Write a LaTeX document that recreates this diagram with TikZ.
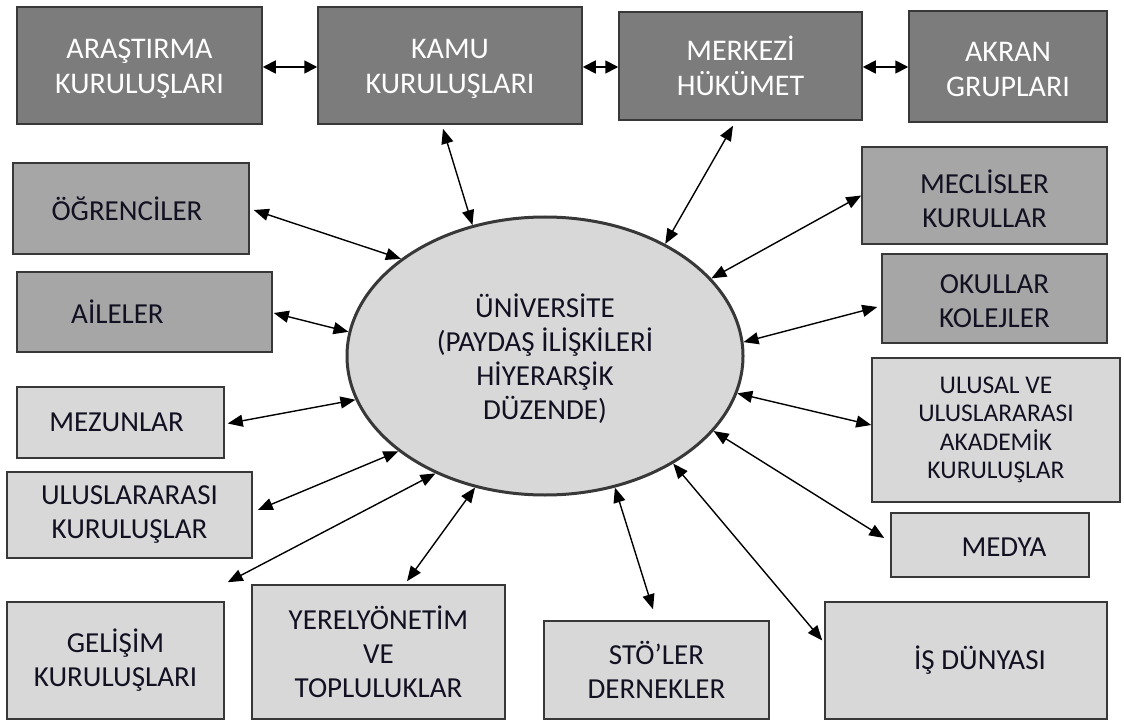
\documentclass[tikz,border=0pt]{standalone}
\usepackage{fontspec}
\setmainfont{Carlito}
\usetikzlibrary{arrows.meta,calc,fit,shapes.geometric}
\definecolor{dk}{HTML}{7C7C7C}
\definecolor{md}{HTML}{A6A6A6}
\definecolor{lt}{HTML}{D8D8D8}
\definecolor{bord}{HTML}{383838}
\definecolor{ink}{HTML}{111122}
\begin{document}
\begin{tikzpicture}[x=1pt,y=-1pt,
  bx/.style={draw=bord,line width=1.5pt,inner sep=0pt},
  dark/.style={bx,fill=dk},
  mid/.style={bx,fill=md},
  lite/.style={bx,fill=lt},
  tw/.style={text=white,font=\fontsize{30}{35}\selectfont,align=center,inner sep=0pt},
  tb/.style={text=ink,font=\fontsize{29}{34}\selectfont,align=center,inner sep=0pt},
  ts/.style={text=ink,font=\fontsize{25.5}{28.5}\selectfont,align=center,inner sep=0pt},
  arr/.style={line width=1.4pt,{Triangle[length=15pt,width=12pt]}-{Triangle[length=15pt,width=12pt]}},
  arrt/.style={line width=1.8pt,{Triangle[length=13pt,width=13pt]}-{Triangle[length=13pt,width=13pt]}}]
\useasboundingbox (0,0) rectangle (1124,722);
\fill[white] (0,0) rectangle (1124,722);
% top row
\node[dark,fit={(17,7) (262,124)}] (ara) {};
\node[tw] (araT) at ($(ara)+(0,3)$) {ARAŞTIRMA\\KURULUŞLARI};
\node[dark,fit={(318,7) (582,124)}] (kamu) {};
\node[tw] (kamuT) at ($(kamu)+(0,3)$) {KAMU\\KURULUŞLARI};
\node[dark,fit={(619,12) (862,120)}] (mer) {};
\node[tw] (merT) at (mer) {MERKEZİ\\HÜKÜMET};
\node[dark,fit={(909,11) (1107,122)}] (akr) {};
\node[tw] (akrT) at ($(akr)+(0,3)$) {AKRAN\\GRUPLARI};
% left column
\node[mid,fit={(13,163) (249,254)}] (ogr) {};
\node[tb] (ogrT) at ($(ogr)+(-4,0)$) {ÖĞRENCİLER};
\node[mid,fit={(17,272) (272,352)}] (aile) {};
\node[tb] (aileT) at ($(aile)+(-27,0)$) {AİLELER};
\node[lite,fit={(17,387) (224,458)}] (mez) {};
\node[tb] (mezT) at ($(mez)+(-4,0)$) {MEZUNLAR};
\node[lite,fit={(7,472) (252,558)}] (ulu) {};
\node[tb] (uluT) at (ulu) {ULUSLARARASI\\KURULUŞLAR};
\node[lite,fit={(7,602) (224,719)}] (gel) {};
\node[tb] (gelT) at (gel) {GELİŞİM\\KURULUŞLARI};
% bottom row
\node[lite,fit={(252,585) (505,719)}] (yer) {};
\node[tb] (yerT) at (yer) {YERELYÖNETİM\\VE\\TOPLULUKLAR};
\node[lite,fit={(544,621) (769,719)}] (sto) {};
\node[tb] (stoT) at (sto) {STÖ’LER\\DERNEKLER};
\node[lite,fit={(825,602) (1107,719)}] (is) {};
\node[tb] (isT) at ($(is)+(14,0)$) {İŞ DÜNYASI};
% right column
\node[mid,fit={(862,147) (1107,244)}] (mec) {};
\node[tb] (mecT) at ($(mec)+(0,3)$) {MECLİSLER\\KURULLAR};
\node[mid,fit={(882,254) (1107,343)}] (oku) {};
\node[tb] (okuT) at ($(oku)+(0,3)$) {OKULLAR\\KOLEJLER};
\node[lite,fit={(872,358) (1120,502)}] (ual) {};
\node[ts] (ualT) at (ual) {ULUSAL VE\\ULUSLARARASI\\AKADEMİK\\KURULUŞLAR};
\node[lite,fit={(891,513) (1089,577)}] (med) {};
\node[tb] (medT) at ($(med)+(14,2)$) {MEDYA};
% centre
\node[ellipse,draw=bord,line width=3pt,fill=lt,minimum width=396pt,minimum height=278pt,inner sep=0pt] (u) at (545,356) {};
\node[tb] (uT) at ($(u)+(0,3)$) {ÜNİVERSİTE\\(PAYDAŞ İLİŞKİLERİ\\HİYERARŞİK\\DÜZENDE)};
% connectors: top row
\draw[arrt] (ara.east |- 0,67) -- (kamu.west |- 0,67);
\draw[arrt] (kamu.east |- 0,67) -- (mer.west |- 0,67);
\draw[arrt] (mer.east |- 0,67) -- (akr.west |- 0,67);
% connectors to the university
\draw[arr] ($(kamu.south)+(-7,4)$) -- (u.119);
\draw[arr] ($(mer.south)+(-7.5,5)$) -- (u.43);
\draw[arr] (mec.west) -- (u.25);
\draw[arr] ($(oku.west)+(-4,8.5)$) -- (u.4);
\draw[arr] ($(ual.west)+(0,-5)$) -- (u.-11);
\draw[arr] ($(med.west)+(-6,-7)$) -- (u.-24.5);
\draw[arr] ($(is.west)+(-2,-20)$) -- (u.-40.7);
\draw[arr] ($(sto.north)+(-3.5,-11)$) -- (u.-62.4);
\draw[arr] ($(yer.north)+(28.5,-3)$) -- (u.-118.6);
\draw[arr] ($(gel.north east)+(3,-19)$) -- (u.-133.3);
\draw[arr] ($(ulu.east)+(5,-5)$) -- (u.-147.9);
\draw[arr] ($(mez.east)+(3,1)$) -- (u.-167.9);
\draw[arr] ($(aile.east)+(1,1)$) -- (u.173.1);
\draw[arr] ($(ogr.east)+(4,1.5)$) -- (u.146.5);
\end{tikzpicture}
\end{document}
